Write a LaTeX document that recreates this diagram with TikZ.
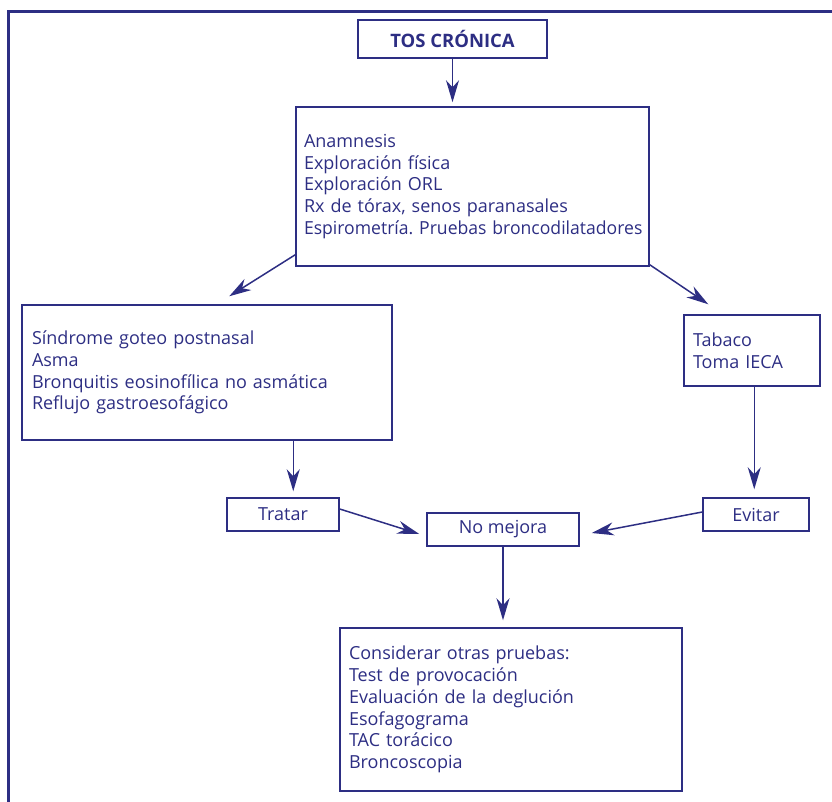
\documentclass[tikz,border=0pt]{standalone}
\usepackage{graphicx}
\usepackage{fontspec}
\setmainfont{Open Sans}
\usetikzlibrary{arrows.meta,calc}
\definecolor{navy}{RGB}{45,46,131}
\tikzset{
  box/.style={draw=navy, line width=1.5pt, text=navy, inner ysep=0pt,
    font=\fontsize{18}{21.7}\selectfont\frenchspacing},
  listbox/.style={box, align=left},
  arr/.style={draw=navy, line width=1.5pt, -{Stealth[length=22pt,width=13pt,inset=7pt]}},
  frame/.style={draw=navy, line width=3pt, line join=miter}
}
\begin{document}
\begin{tikzpicture}[x=1pt,y=-1pt]
\useasboundingbox (0,0) rectangle (832,801);
\clip (0,0) rectangle (832,801);
\draw[frame] (8,820) -- (8,11) -- (850,11);

\node[box, minimum width=189pt, minimum height=38pt, inner xsep=0pt, font=\fontsize{18.5}{21.7}\selectfont\bfseries] (tos) at (452.5,39) {TOS CRÓNICA};

\node[listbox, text width=337pt, inner xsep=8pt, minimum height=159pt] (eval) at (472.5,186.5)
 {Anamnesis\\Exploración física\\Exploración ORL\\Rx de tórax, senos paranasales\\\scalebox{0.977}[1]{Espirometría. Pruebas broncodilatadores}};

\node[listbox, text width=350pt, inner xsep=10pt, minimum height=135pt] (diag) at (207,372.5)
 {Síndrome goteo postnasal\\Asma\\Bronquitis eosinofílica no asmática\\Reflujo gastroesofágico};

\node[listbox, text width=118pt, inner xsep=9pt, minimum height=71pt] (tab) at (752,350.5)
 {Tabaco\\Toma IECA};

\node[box, minimum width=112pt, minimum height=33pt, inner xsep=0pt] (tratar) at (283,514.5) {Tratar};
\node[box, minimum width=106pt, minimum height=33pt, inner xsep=0pt] (evitar) at (756,514.5) {Evitar};
\node[box, minimum width=152pt, minimum height=33pt, inner xsep=0pt] (nomej) at (503,529.5) {No mejora};

\node[listbox, text width=324pt, inner xsep=9pt, minimum height=163pt] (cons) at (511,709.5)
 {Considerar otras pruebas:\\Test de provocación\\Evaluación de la deglución\\Esofagograma\\TAC torácico\\Broncoscopia};

\coordinate (e1) at ($(eval.south west)+(0,-12)$);
\coordinate (d1) at ($(diag.north west)+(208,-8)$);
\coordinate (e2) at ($(eval.south east)+(0,-2)$);
\coordinate (t1) at ($(tab.north west)+(25,-10)$);
\coordinate (d2) at ($(diag.south west)+(272,0)$);
\coordinate (t2) at ($(tab.south west)+(71,0)$);
\coordinate (r1) at ($(tratar.east)+(0,-5.5)$);
\coordinate (n1) at ($(nomej.west)+(-7,4.5)$);
\coordinate (v1) at ($(evitar.west)+(0,-2.5)$);
\coordinate (n2) at ($(nomej.east)+(12,3.5)$);

\draw[arr, shorten >=4pt] (tos.south) -- (tos.south |- eval.north);
\draw[arr] (e1) -- (d1);
\draw[arr] (e2) -- (t1);
\draw[arr, shorten >=6pt] (d2) -- (d2 |- tratar.north);
\draw[arr, shorten >=8pt] (t2) -- (t2 |- evitar.north);
\draw[arr] (r1) -- (n1);
\draw[arr] (v1) -- (n2);
\draw[arr, shorten >=7pt] (nomej.south) -- (nomej.south |- cons.north);
\end{tikzpicture}
\end{document}
